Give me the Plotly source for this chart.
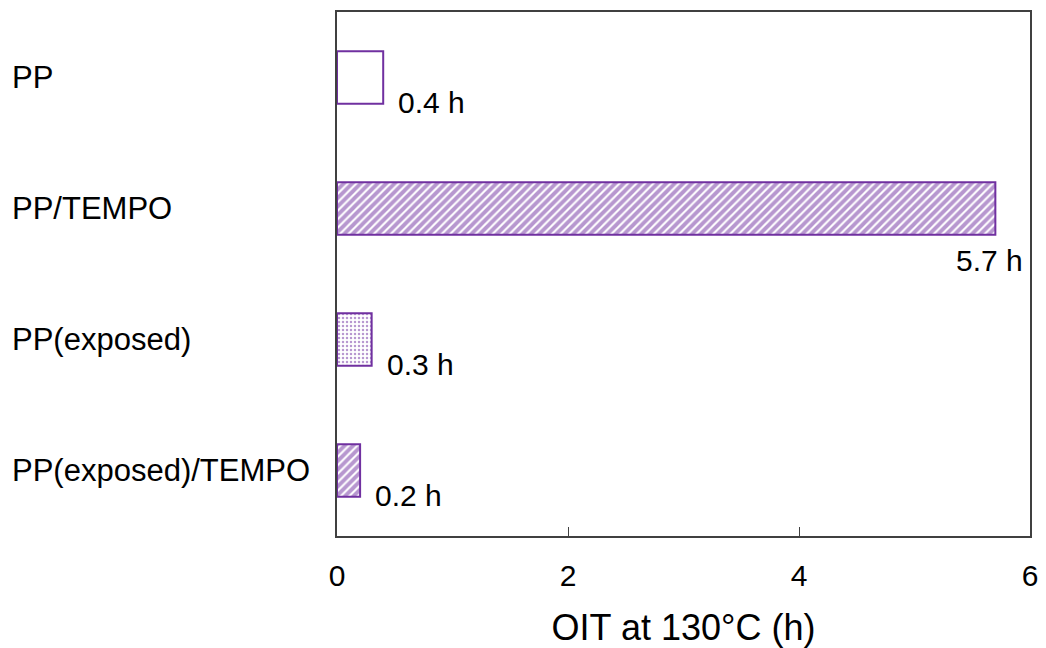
import plotly.graph_objects as go

categories = ["PP", "PP/TEMPO", "PP(exposed)", "PP(exposed)/TEMPO"]
oit_hours = [0.4, 5.7, 0.3, 0.2]
value_labels = ["0.4 h", "5.7 h", "0.3 h", "0.2 h"]
patterns = ["", "/", ".", "/"]
x_ticks = [0, 2, 4, 6]

purple = "#7030A0"
font_family = "Liberation Sans, Arial, sans-serif"

# figure sits inside the page body with an 8px margin
FIG_W, FIG_H = 1038, 640
M_L, M_R, M_T, M_B = 329, 16, 4, 112
plot_w = FIG_W - M_L - M_R

fig = go.Figure()
fig.add_trace(go.Bar(
    x=oit_hours, y=categories, orientation="h", width=0.4,
    marker=dict(
        color="white",
        line=dict(color=purple, width=2),
        pattern=dict(shape=patterns, fgcolor=purple, bgcolor="white",
                     size=[6, 6, 4, 6], solidity=[0.5, 0.65, 0.3, 0.65],
                     fillmode="overlay"),
    ),
    showlegend=False, hoverinfo="skip",
))

# value labels
for cat, v, lab in zip(categories, oit_hours, value_labels):
    if v > 5:
        fig.add_annotation(x=v, y=cat, text=lab, showarrow=False, xanchor="right",
                           yanchor="middle", xshift=30, yshift=-52,
                           font=dict(size=30, color="black", family=font_family))
    else:
        fig.add_annotation(x=v, y=cat, text=lab, showarrow=False, xanchor="left",
                           yanchor="middle", xshift=13, yshift=-25,
                           font=dict(size=30, color="black", family=font_family))

# left-aligned category labels
for cat in categories:
    fig.add_annotation(x=-327 / plot_w, xref="paper", y=cat, yref="y",
                       text=cat, showarrow=False, xanchor="left", yanchor="middle",
                       font=dict(size=31, color="black", family=font_family))

fig.update_layout(
    width=FIG_W, height=FIG_H,
    margin=dict(l=M_L, r=M_R, t=M_T, b=M_B, autoexpand=False),
    plot_bgcolor="white", paper_bgcolor="white",
    font=dict(family=font_family, size=30, color="black"),
)
fig.update_xaxes(
    range=[0, 6], tickvals=x_ticks, ticktext=[str(t) for t in x_ticks],
    showgrid=False, zeroline=False, automargin=False, ticklabeloverflow="allow",
    showline=True, linecolor="#404040", linewidth=1.5, mirror=True,
    ticks="inside", ticklen=9, tickcolor="#404040", tickwidth=1,
    tickfont=dict(size=30, family=font_family), ticklabelstandoff=12,
    title=dict(text="OIT at 130°C (h)", font=dict(size=36), standoff=36),
)
fig.update_yaxes(
    categoryorder="array", categoryarray=categories, automargin=False,
    range=[3.5, -0.5], showticklabels=False, showgrid=False, zeroline=False,
    showline=True, linecolor="#404040", linewidth=1.5, mirror=True, ticks="",
)

fig.write_html("out.html")
